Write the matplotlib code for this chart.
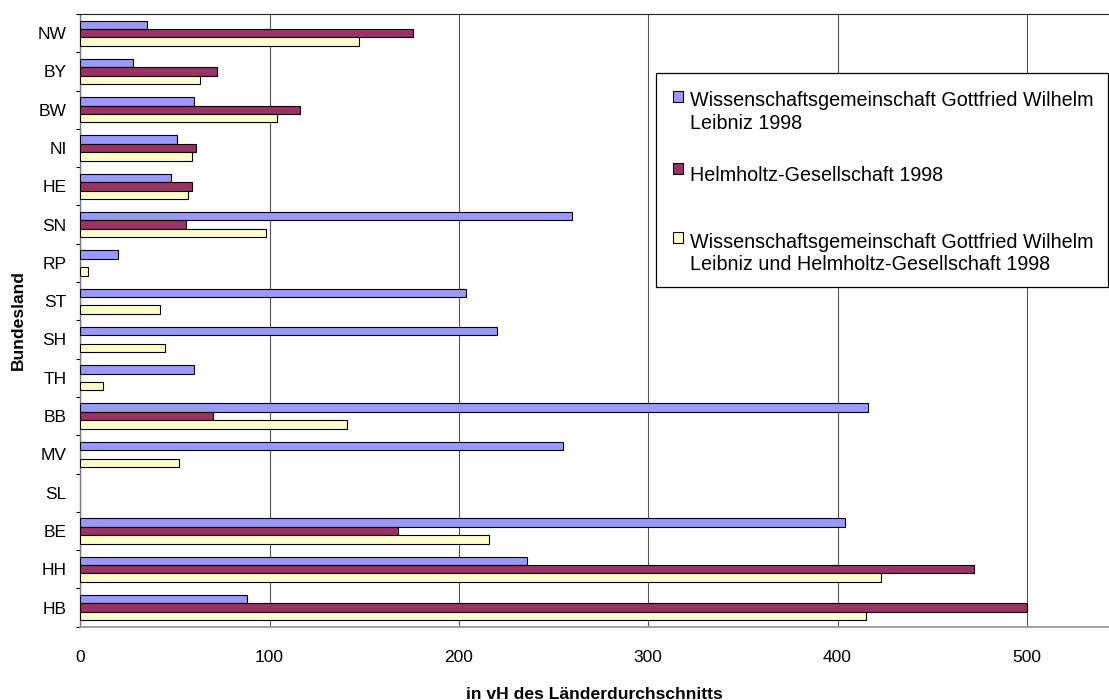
import matplotlib
matplotlib.use("Agg")
import matplotlib.pyplot as plt
from matplotlib.patches import Rectangle
from matplotlib.ticker import FixedLocator
import numpy as np

plt.rcParams['font.family'] = ['Liberation Sans', 'DejaVu Sans']

# data (top to bottom)
states = ["NW", "BY", "BW", "NI", "HE", "SN", "RP", "ST", "SH", "TH", "BB", "MV", "SL", "BE", "HH", "HB"]
leibniz = [35, 28, 60, 51, 48, 260, 20, 204, 220, 60, 416, 255, np.nan, 404, 236, 88]
helmholtz = [176, 72, 116, 61, 59, 56, np.nan, np.nan, np.nan, np.nan, 70, np.nan, np.nan, 168, 472, 500]
beide = [147, 63, 104, 59, 57, 98, 4, 42, 45, 12, 141, 52, np.nan, 216, 423, 415]

series_labels = ["Wissenschaftsgemeinschaft Gottfried Wilhelm\nLeibniz 1998",
                 "Helmholtz-Gesellschaft 1998",
                 "Wissenschaftsgemeinschaft Gottfried Wilhelm\nLeibniz und Helmholtz-Gesellschaft 1998"]
colors = ["#9999FF", "#993366", "#FFFFCC"]
xticks = [0, 100, 200, 300, 400, 500]

W, H = 1109, 700
fig = plt.figure(figsize=(W / 100, H / 100), dpi=100)
ax = fig.add_axes([80.3 / W, (H - 626.7) / H, 1 - 80.3 / W, 612.7 / H])

pos = np.arange(len(states))[::-1].astype(float)
h = 0.22
for k, (vals, col) in enumerate(zip([leibniz, helmholtz, beide], colors)):
    vals = np.array(vals, dtype=float)
    ok = ~np.isnan(vals)
    ax.barh(pos[ok] + h * (1 - k), vals[ok], height=h, color=col,
            edgecolor="black", linewidth=0.8, zorder=3)

ax.set_xlim(0, (W - 80.3) / 1.893)
ax.set_ylim(-0.5, len(states) - 0.5)

ax.set_xticks(xticks)
ax.set_yticks(pos)
ax.set_yticklabels(states)
ax.yaxis.set_minor_locator(FixedLocator(np.arange(-0.5, len(states), 1.0)))
ax.tick_params(axis="x", length=0, pad=16.5, labelsize=12.5)
ax.tick_params(axis="y", which="major", length=0, pad=9.8, labelsize=12.5)
ax.tick_params(axis="y", which="minor", length=3, width=0.8, color="black", direction="out")

ax.grid(axis="x", color="#555555", linewidth=0.8)
ax.set_axisbelow(True)

ax.spines["right"].set_visible(False)
ax.spines["top"].set_color("#222222")
ax.spines["top"].set_linewidth(0.8)
ax.spines["left"].set_color("#777777")
ax.spines["left"].set_linewidth(1.0)
ax.spines["bottom"].set_color("#999999")
ax.spines["bottom"].set_linewidth(1.3)

ax.set_xlabel("in vH des Länderdurchschnitts", fontsize=12.6, fontweight="bold", labelpad=16)
ax.set_ylabel("Bundesland", fontsize=12.6, fontweight="bold", labelpad=8.5)

# legend drawn by hand to get the Excel layout
def fx(px):
    return px / W

def fy(py):
    return 1 - py / H

fig.add_artist(Rectangle((fx(656), fy(287)), fx(1107.5) - fx(656), fy(73) - fy(287),
                         transform=fig.transFigure, facecolor="white", edgecolor="black",
                         linewidth=0.9, zorder=5))
swatch_tops = [91, 163, 232]
baselines = [106.5, 181, 247.5]
line_step = 22.7
for lab, col, st, bl in zip(series_labels, colors, swatch_tops, baselines):
    fig.add_artist(Rectangle((fx(672.5), fy(st + 10.5)), fx(10.5), 10.5 / H,
                             transform=fig.transFigure, facecolor=col, edgecolor="black",
                             linewidth=0.8, zorder=6))
    for i, line in enumerate(lab.split("\n")):
        fig.text(fx(690), fy(bl + i * line_step), line, fontsize=14.2,
                 va="baseline", ha="left", zorder=6)

fig.savefig("out.png", dpi=100)
